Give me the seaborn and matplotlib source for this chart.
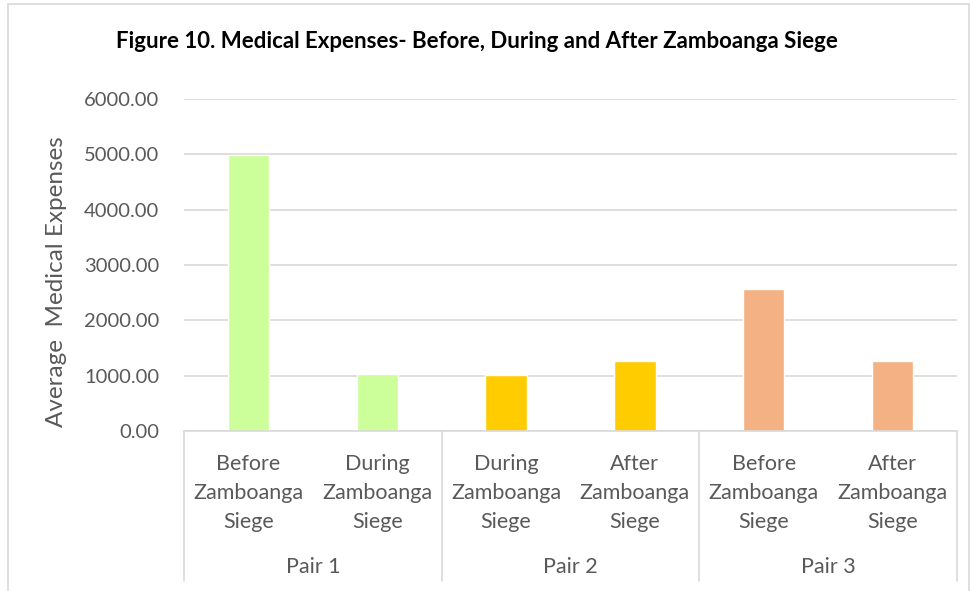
import matplotlib
matplotlib.use("Agg")
import matplotlib.pyplot as plt
import matplotlib.patches as mpatches
import pandas as pd
import seaborn as sns

# --------------------------------------------------
# Data
# --------------------------------------------------
categories = [
    "Before\nZamboanga\nSiege",
    "During\nZamboanga\nSiege",
    "During\nZamboanga\nSiege",
    "After\nZamboanga\nSiege",
    "Before\nZamboanga\nSiege",
    "After\nZamboanga\nSiege",
]
pairs = ["Pair 1", "Pair 1", "Pair 2", "Pair 2", "Pair 3", "Pair 3"]
values = [4990, 1030, 1005, 1265, 2565, 1265]
pair_colors = {"Pair 1": "#CCFF99", "Pair 2": "#FFCC00", "Pair 3": "#F4B183"}
y_ticks = [0, 1000, 2000, 3000, 4000, 5000, 6000]

df = pd.DataFrame({
    "slot": [f"s{i}" for i in range(len(values))],
    "pair": pairs,
    "value": values,
})

text_color = "#595959"
grid_color = "#D9D9D9"

sns.set_theme(style="white")
plt.rcParams["font.family"] = ["Lato", "DejaVu Sans"]

fig = plt.figure(figsize=(9.75, 5.91), dpi=100)
ax = fig.add_axes([184 / 975, 1 - 431 / 591, (957 - 184) / 975, (431 - 99) / 591])

sns.barplot(data=df, x="slot", y="value", hue="pair", palette=pair_colors,
            dodge=False, width=0.32, legend=False, ax=ax, saturation=1)

ax.set_ylim(0, 6000)
ax.set_xlim(-0.5, len(values) - 0.5)
ax.set_yticks(y_ticks)
ax.set_yticklabels([f"{v:.2f}" for v in y_ticks], color=text_color, fontsize=14.5)
ax.yaxis.grid(True, color=grid_color, linewidth=1.2)
ax.set_axisbelow(True)
for side in ["left", "right", "top"]:
    ax.spines[side].set_visible(False)
ax.spines["bottom"].set_color(grid_color)
ax.spines["bottom"].set_linewidth(1.2)
ax.tick_params(axis="y", length=0, pad=18)
ax.tick_params(axis="x", length=0, pad=0)

# category labels (first level)
ax.set_xticks(range(len(values)))
ax.set_xticklabels([""] * len(values))
trans = ax.get_xaxis_transform()
for i, lab in enumerate(categories):
    ax.text(i, -0.07, lab, transform=trans, ha="center", va="top",
            fontsize=15.5, color=text_color, linespacing=1.55)

# pair labels (second level) and separators
for k, p in enumerate(["Pair 1", "Pair 2", "Pair 3"]):
    ax.text(2 * k + 0.5, -0.41, p, transform=trans, ha="center", va="center",
            fontsize=15.5, color=text_color)
for xs in [-0.5, 1.5, 3.5, 5.5]:
    ax.plot([xs, xs], [0, -0.452], transform=trans, color=grid_color,
            linewidth=1.2, clip_on=False)

ax.set_xlabel("")
ax.set_ylabel("Average  Medical Expenses", fontsize=17.5, color=text_color)
ax.yaxis.set_label_coords(-0.152, 0.449)

fig.text(477 / 975, 1 - 42 / 591,
         "Figure 10. Medical Expenses- Before, During and After Zamboanga Siege",
         ha="center", va="center", fontsize=16, fontweight="bold", color="black")

# outer chart frame
fig.patches.append(mpatches.Rectangle((8 / 975, -0.05), (969 - 8) / 975, 1.05 - 4 / 591,
                                      transform=fig.transFigure, fill=False,
                                      edgecolor=grid_color, linewidth=1.2))

fig.savefig("out.png", dpi=100)
